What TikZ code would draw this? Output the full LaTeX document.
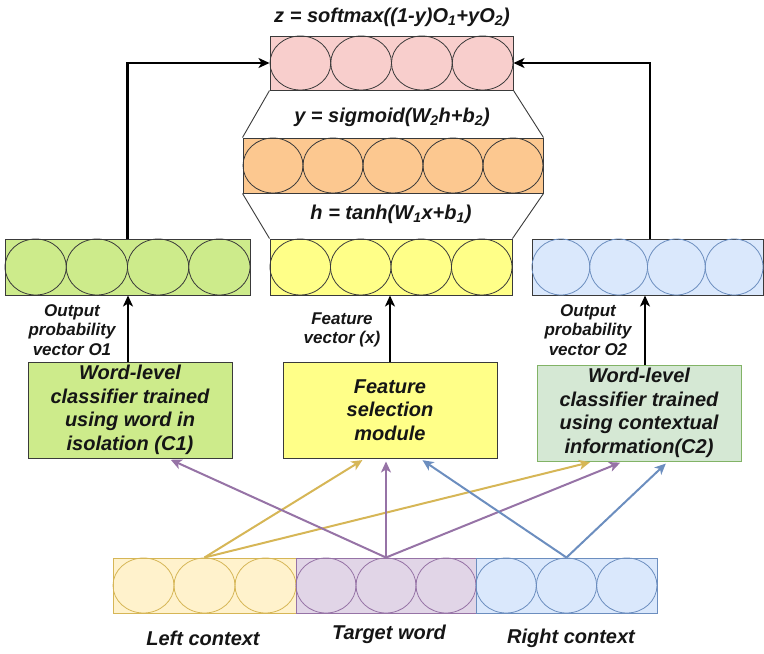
\documentclass[tikz,border=0pt]{standalone}
\usepackage{fontspec}
\setmainfont{Liberation Sans}
\usetikzlibrary{arrows.meta,calc}
\definecolor{pinkf}{HTML}{F8CECC}
\definecolor{orangef}{HTML}{FCC890}
\definecolor{yellowf}{HTML}{FFFF88}
\definecolor{greenf}{HTML}{CDEB8B}
\definecolor{bluef}{HTML}{DAE8FC}
\definecolor{bluel}{HTML}{6C8EBF}
\definecolor{c2f}{HTML}{D5E8D4}
\definecolor{c2l}{HTML}{82B366}
\definecolor{ltf}{HTML}{FFF2CC}
\definecolor{ltl}{HTML}{D6B656}
\definecolor{purf}{HTML}{E1D5E7}
\definecolor{purl}{HTML}{9673A6}
\definecolor{edge}{HTML}{3A3A3A}
\definecolor{txt}{HTML}{151515}
\newcommand\cells[6]{%
  \pgfmathsetmacro\mycw{#3/#5}\pgfmathsetmacro\myrx{#3/#5/2}\pgfmathsetmacro\myry{#4/2}%
  \foreach \i in {1,...,#5}{\draw[#6, line width=0.8pt] ({#1+(\i-0.5)*\mycw},{#2+#4/2}) ellipse [x radius=\myrx pt, y radius=\myry pt];}}
\tikzset{
  vec/.style={draw=edge, line width=1pt, inner sep=0pt},
  box/.style={line width=1pt, inner sep=0pt, minimum height=96pt, align=center, text=txt,
    font=\fontsize{20}{23.5}\selectfont\bfseries\itshape},
  lbl/.style={align=center, text=txt, inner sep=0pt, font=\fontsize{17}{19.5}\selectfont\bfseries\itshape},
  big/.style={align=center, text=txt, inner sep=0pt, font=\fontsize{20}{23.5}\selectfont\bfseries\itshape},
  blk/.style={line width=2.2pt, draw=black, -{Stealth[length=11pt,width=10pt,inset=3pt]}},
  col/.style={line width=2pt, draw=#1, -{Stealth[length=11pt,width=10pt,inset=3pt]}, shorten >=3pt},
  trap/.style={draw=edge, line width=0.9pt}
}
\begin{document}
\begin{tikzpicture}[x=1pt,y=-1pt]
\useasboundingbox (0,0) rectangle (764,654);
% vectors
\node[vec, fill=pinkf, minimum width=243pt, minimum height=54pt] (pink) at (391.5,63) {};
\cells{270}{36}{243}{54}{4}{edge}
\node[vec, fill=orangef, minimum width=300pt, minimum height=55pt] (orange) at (393,165.5) {};
\cells{243}{138}{300}{55}{5}{edge}
\node[vec, fill=yellowf, minimum width=242pt, minimum height=56pt] (yv) at (391,267) {};
\cells{270}{239}{242}{56}{4}{edge}
\node[vec, fill=greenf, minimum width=245pt, minimum height=56pt] (gv) at (127.5,267) {};
\cells{5}{239}{245}{56}{4}{edge}
\node[vec, fill=bluef, minimum width=231pt, minimum height=56pt] (bv) at (647.5,267) {};
\cells{532}{239}{231}{56}{4}{bluel}
% trapezoid sides
\draw[trap] (pink.south west) -- (orange.north west);
\draw[trap] (pink.south east) -- (orange.north east);
\draw[trap] (orange.south west) -- (yv.north west);
\draw[trap] (orange.south east) -- (yv.north east);
% formulas
\node[big] (zf) at (392,17) {z = softmax((1-y)O\textsubscript{1}+yO\textsubscript{2})};
\node[big] (yf) at (392,117) {y = sigmoid(W\textsubscript{2}h+b\textsubscript{2})};
\node[big] (hf) at (391,214) {h = tanh(W\textsubscript{1}x+b\textsubscript{1})};
% classifier boxes
\node[box, draw=edge, fill=greenf, minimum width=204pt] (c1) at (130,410) {Word-level\\classifier trained\\using word in\\isolation (C1)};
\node[box, draw=edge, fill=yellowf, minimum width=214pt] (fs) at (390,410) {Feature\\selection\\module};
\node[box, draw=c2l, fill=c2f, minimum width=204pt] (c2) at (639,413) {Word-level\\classifier trained\\using contextual\\information(C2)};
% labels
\node[lbl] (l1) at (72,330) {Output\\probability\\vector O1};
\node[lbl] (lx) at (342,330) {Feature\\vector (x)};
\node[lbl] (l2) at (588,330) {Output\\probability\\vector O2};
% black arrows
\draw[blk] ([xshift=-2pt]c1.north) -- ([xshift=-2pt]c1.north |- gv.south);
\draw[blk] (fs.north) -- (fs.north |- yv.south);
\draw[blk] ([xshift=6pt]c2.north) -- ([xshift=6pt]c2.north |- bv.south);
\draw[blk] (gv.north) |- (pink.west);
\draw[blk] ([xshift=2.5pt]bv.north) |- (pink.east);
% bottom sequence
\node[vec, draw=ltl, fill=ltf, minimum width=183pt, minimum height=55pt] (lc) at (204.5,585.5) {};
\cells{113}{558}{183}{55}{3}{ltl}
\node[vec, draw=purl, fill=purf, minimum width=180pt, minimum height=55pt] (tw) at (386,585.5) {};
\cells{296}{558}{180}{55}{3}{purl}
\node[vec, draw=bluel, fill=bluef, minimum width=181pt, minimum height=55pt] (rc) at (566.5,585.5) {};
\cells{476}{558}{181}{55}{3}{bluel}
\node[big] (lct) at (203,638) {Left context};
\node[big] (twt) at (389,634) {Target word};
\node[big] (rct) at (571,638) {Right context};
% coloured arrows
\draw[col=ltl] (lc.north) -- ([xshift=-25pt]fs.south);
\draw[col=ltl] (lc.north) -- ([xshift=-46pt]c2.south);
\draw[col=purl] (tw.north) -- ([xshift=38pt]c1.south);
\draw[col=purl] (tw.north) -- (tw.north |- fs.south);
\draw[col=purl] (tw.north) -- ([xshift=-16pt]c2.south);
\draw[col=bluel] (rc.north) -- ([xshift=30pt]fs.south);
\draw[col=bluel] (rc.north) -- ([xshift=29pt]c2.south);
\end{tikzpicture}
\end{document}
